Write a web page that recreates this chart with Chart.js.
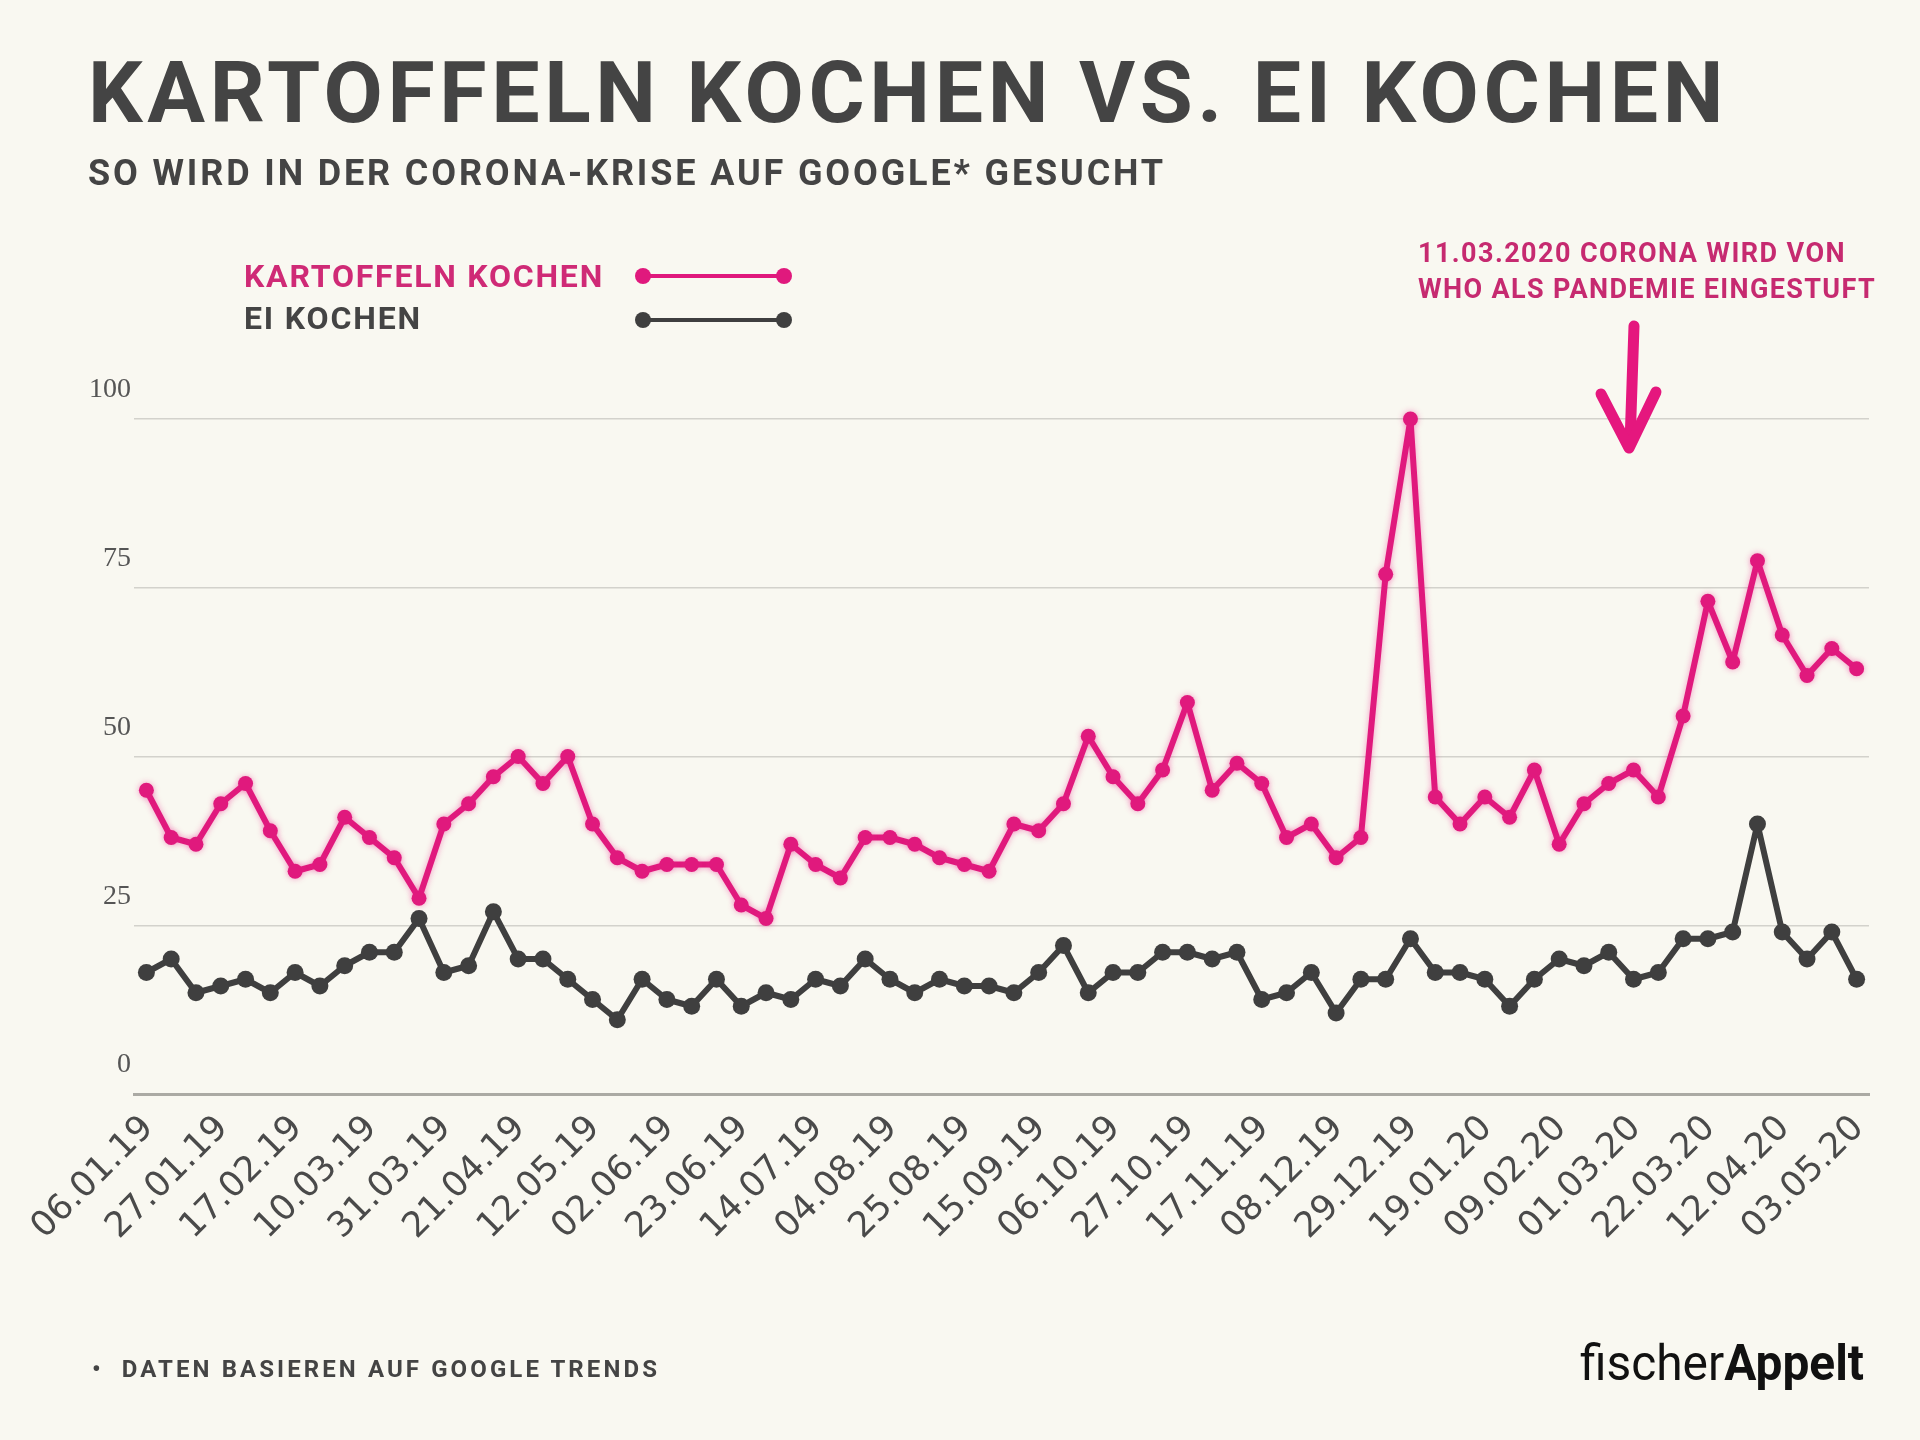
<!DOCTYPE html>
<html lang="de">
<head>
<meta charset="utf-8">
<title>Kartoffeln kochen vs. Ei kochen</title>
<script src="https://cdn.jsdelivr.net/npm/chart.js@4.4.1/dist/chart.umd.min.js"></script>
<style>
  html, body { margin: 0; padding: 0; }
  body { width: 1920px; height: 1440px; background: #f9f8f1; position: relative; overflow: hidden; font-family: Roboto, "DejaVu Sans", sans-serif; }
  #chart { position: absolute; left: 0; top: 0; }
  .txt { position: absolute; white-space: nowrap; line-height: 1; font-weight: 700; }
  #title { left: 88px; top: 50px; font-size: 86px; color: #444; }
  #subtitle { left: 88px; top: 155px; font-size: 36px; color: #444; }
  .leg { left: 244px; font-size: 32px; }
  #leg1 { top: 260px; color: #cf2a76; }
  #leg2 { top: 302px; color: #444; }
  .note { left: 1418px; font-size: 27px; color: #c62a70; }
  #note1 { top: 240px; }
  #note2 { top: 276px; }
  #footer { left: 92px; top: 1357px; font-size: 24px; color: #444; }
  #logo { left: 1580px; top: 1338px; font-size: 50px; color: #111; font-weight: 400; transform-origin: left top; }
  #logo b { font-weight: 700; }
  svg { position: absolute; left: 0; top: 0; }
</style>
</head>
<body>
<canvas id="chart" width="1920" height="1440"></canvas>

<div class="txt" id="title">KARTOFFELN KOCHEN VS. EI KOCHEN</div>
<div class="txt" id="subtitle">SO WIRD IN DER CORONA-KRISE AUF GOOGLE* GESUCHT</div>
<div class="txt leg" id="leg1">KARTOFFELN KOCHEN</div>
<div class="txt leg" id="leg2">EI KOCHEN</div>
<div class="txt note" id="note1">11.03.2020 CORONA WIRD VON</div>
<div class="txt note" id="note2">WHO ALS PANDEMIE EINGESTUFT</div>
<div class="txt" id="footer">•&nbsp;&nbsp;DATEN BASIEREN AUF GOOGLE TRENDS</div>
<div class="txt" id="logo">fischer<b>Appelt</b></div>

<svg width="1920" height="460">
  <!-- legend samples -->
  <line x1="643" y1="276" x2="784" y2="276" stroke="#e0197d" stroke-width="4"/>
  <circle cx="643" cy="276" r="8" fill="#e0197d"/>
  <circle cx="784" cy="276" r="8" fill="#e0197d"/>
  <line x1="643" y1="320" x2="784" y2="320" stroke="#3f3f3f" stroke-width="4"/>
  <circle cx="643" cy="320" r="8" fill="#3f3f3f"/>
  <circle cx="784" cy="320" r="8" fill="#3f3f3f"/>
  <!-- hand drawn arrow -->
  <path d="M1634,326 L1630,444" stroke="#e5177e" stroke-width="11" stroke-linecap="round" fill="none"/>
  <path d="M1601,394 L1629,448 L1656,392" stroke="#e5177e" stroke-width="11" stroke-linecap="round" stroke-linejoin="round" fill="none"/>
</svg>

<script>
'use strict';

//--------------------DATA
let weeks = [
  '06.01.19', '13.01.19', '20.01.19', '27.01.19', '03.02.19', '10.02.19', '17.02.19', '24.02.19',
  '03.03.19', '10.03.19', '17.03.19', '24.03.19', '31.03.19', '07.04.19', '14.04.19', '21.04.19',
  '28.04.19', '05.05.19', '12.05.19', '19.05.19', '26.05.19', '02.06.19', '09.06.19', '16.06.19',
  '23.06.19', '30.06.19', '07.07.19', '14.07.19', '21.07.19', '28.07.19', '04.08.19', '11.08.19',
  '18.08.19', '25.08.19', '01.09.19', '08.09.19', '15.09.19', '22.09.19', '29.09.19', '06.10.19',
  '13.10.19', '20.10.19', '27.10.19', '03.11.19', '10.11.19', '17.11.19', '24.11.19', '01.12.19',
  '08.12.19', '15.12.19', '22.12.19', '29.12.19', '05.01.20', '12.01.20', '19.01.20', '26.01.20',
  '02.02.20', '09.02.20', '16.02.20', '23.02.20', '01.03.20', '08.03.20', '15.03.20', '22.03.20',
  '29.03.20', '05.04.20', '12.04.20', '19.04.20', '26.04.20', '03.05.20'
];

let kartoffelnKochen = [
  45, 38, 37, 43, 46, 39, 33, 34, 41, 38,
  35, 29, 40, 43, 47, 50, 46, 50, 40, 35,
  33, 34, 34, 34, 28, 26, 37, 34, 32, 38,
  38, 37, 35, 34, 33, 40, 39, 43, 53, 47,
  43, 48, 58, 45, 49, 46, 38, 40, 35, 38,
  77, 100, 44, 40, 44, 41, 48, 37, 43, 46,
  48, 44, 56, 73, 64, 79, 68, 62, 66, 63
];

let eiKochen = [
  18, 20, 15, 16, 17, 15, 18, 16, 19, 21,
  21, 26, 18, 19, 27, 20, 20, 17, 14, 11,
  17, 14, 13, 17, 13, 15, 14, 17, 16, 20,
  17, 15, 17, 16, 16, 15, 18, 22, 15, 18,
  18, 21, 21, 20, 21, 14, 15, 18, 12, 17,
  17, 23, 18, 18, 17, 13, 17, 20, 19, 21,
  17, 18, 23, 23, 24, 40, 24, 20, 24, 17
];

let yTicks = [0, 25, 50, 75, 100];
let labelEvery = 3;

//--------------------TEXT FITTING
function fitWidth(id, target) {
  let el = document.getElementById(id);
  el.style.letterSpacing = '0px';
  let natural = el.getBoundingClientRect().width;
  let n = el.textContent.length;
  el.style.letterSpacing = ((target - natural) / n) + 'px';
}

fitWidth('title', 1640);
fitWidth('subtitle', 1078);
fitWidth('leg1', 360);
fitWidth('leg2', 178);
fitWidth('note1', 428);
fitWidth('note2', 458);
fitWidth('footer', 568);

let logo = document.getElementById('logo');
logo.style.transform = 'scaleX(' + (284 / logo.getBoundingClientRect().width) + ')';

//--------------------CHART
let glowPlugin = {
  id: 'glow',
  beforeDatasetDraw(chart, args) {
    chart.ctx.save();
    if (args.index === 0) {
      chart.ctx.shadowColor = 'rgba(236, 40, 140, 0.45)';
      chart.ctx.shadowBlur = 6;
    }
  },
  afterDatasetDraw(chart) {
    chart.ctx.restore();
  }
};

let canvasElem = document.getElementById('chart');

new Chart(canvasElem, {
  type: 'line',
  data: {
    labels: weeks,
    datasets: [
      {
        label: 'KARTOFFELN KOCHEN',
        data: kartoffelnKochen,
        borderColor: '#e0197d',
        backgroundColor: '#e0197d',
        borderWidth: 6,
        borderJoinStyle: 'round',
        pointRadius: 7.5,
        pointBorderWidth: 0,
        tension: 0,
        clip: false,
      },
      {
        label: 'EI KOCHEN',
        data: eiKochen,
        borderColor: '#3f3f3f',
        backgroundColor: '#3f3f3f',
        borderWidth: 6,
        borderJoinStyle: 'round',
        pointRadius: 8.5,
        pointBorderWidth: 0,
        tension: 0,
        clip: false,
      },
    ],
  },
  options: {
    responsive: false,
    animation: false,
    events: [],
    layout: { padding: { top: 419, right: 51, left: 0, bottom: 0 } },
    plugins: {
      legend: { display: false },
      tooltip: { enabled: false },
    },
    scales: {
      x: {
        offset: true,
        grid: { display: false },
        border: { display: true, color: '#abaaa4', width: 3 },
        afterFit(scale) { scale.height = 346; },
        ticks: {
          autoSkip: false,
          maxRotation: 45,
          minRotation: 45,
          padding: 6,
          labelOffset: 2,
          color: '#4a4a4a',
          font: { family: '"DejaVu Sans", Verdana, sans-serif', size: 35 },
          callback(value, index) {
            return index % labelEvery === 0 ? weeks[index] : '';
          },
        },
      },
      y: {
        min: yTicks[0],
        max: yTicks[yTicks.length - 1],
        afterBuildTicks(scale) {
          scale.ticks = yTicks.map(v => ({ value: v }));
        },
        afterFit(scale) { scale.width = 134; },
        border: { display: false },
        grid: {
          drawTicks: false,
          lineWidth: 1.5,
          color(ctx) {
            return ctx.tick && ctx.tick.value === 0 ? 'rgba(0,0,0,0)' : '#d3d2cc';
          },
        },
        ticks: {
          padding: 3,
          labelOffset: -29,
          color: '#555',
          font: { family: '"Liberation Serif", "DejaVu Serif", serif', size: 28 },
        },
      },
    },
  },
  plugins: [glowPlugin],
});
</script>
</body>
</html>
